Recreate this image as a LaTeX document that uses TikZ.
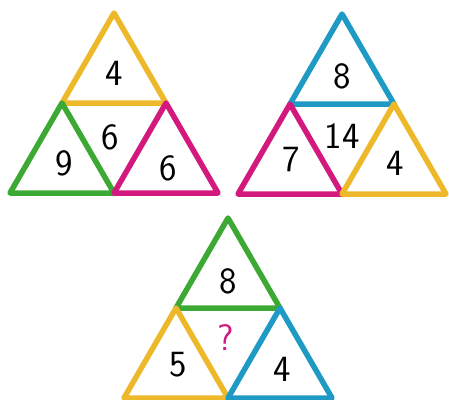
\documentclass[tikz,border=0pt]{standalone}
\usepackage{xcolor}
\usepackage{tikz}

\definecolor{cyel}{HTML}{EDB92A}
\definecolor{cgrn}{HTML}{3DA935}
\definecolor{cmag}{HTML}{D4197E}
\definecolor{cblu}{HTML}{1E9AC4}

\begin{document}
\begin{tikzpicture}[
  x=1pt, y=-1pt,
  tri/.style={line width=5.5pt, line join=round},
  num/.style={font=\fontsize{37}{37}\selectfont\sffamily, inner sep=0pt},
]
\clip (0,0) rectangle (449,399);
\useasboundingbox (0,0) rectangle (449,399);

% triangles: apex x / apex y / colour
\foreach \ax/\ay/\col in {114/13/cyel, 62/103/cgrn, 166/103/cmag,
                          342/14/cblu, 290/104/cmag, 394/104/cyel,
                          228/218/cgrn, 176/308/cyel, 280/308/cblu}
  \draw[tri, \col] (\ax,\ay) -- ++(-52,90) -- ++(104,0) -- cycle;

% first puzzle
\node[num] (a-top)   at (114,73)  {4};
\node[num] (a-mid)   at (110,137) {6};
\node[num] (a-left)  at (64,163)  {9};
\node[num] (a-right) at (168,168) {6};

% second puzzle
\node[num] (b-top)   at (342,76)  {8};
\node[num] (b-mid)   at (342,136) {14};
\node[num] (b-left)  at (291,160) {7};
\node[num] (b-right) at (395,163) {4};

% third puzzle
\node[num] (c-top)   at (228,281) {8};
\node[num, text=cmag] (c-mid) at (226,338) {?};
\node[num] (c-left)  at (178,365) {5};
\node[num] (c-right) at (282,369) {4};
\end{tikzpicture}
\end{document}
